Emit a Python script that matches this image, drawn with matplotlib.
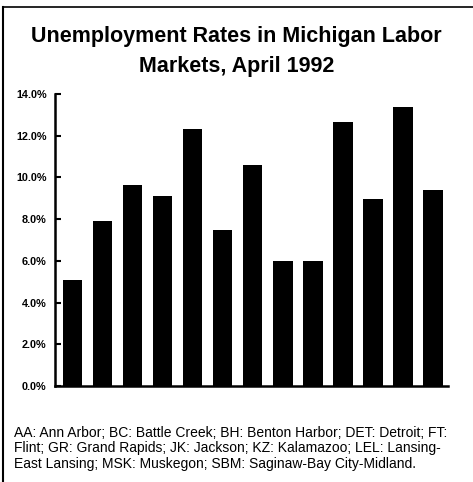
import matplotlib
matplotlib.use("Agg")
import matplotlib.pyplot as plt
from matplotlib.lines import Line2D

title = "Unemployment Rates in Michigan Labor\nMarkets, April 1992"
rates = [5.1, 7.9, 9.65, 9.1, 12.3, 7.5, 10.6, 6.0, 6.0, 12.65, 8.95, 13.4, 9.4]
yticks = [0, 2, 4, 6, 8, 10, 12, 14]
ytick_labels = ["0.0%", "2.0%", "4.0%", "6.0%", "8.0%", "10.0%", "12.0%", "14.0%"]
footnote = ("AA: Ann Arbor; BC: Battle Creek; BH: Benton Harbor; DET: Detroit; FT:\n"
            "Flint; GR: Grand Rapids; JK: Jackson; KZ: Kalamazoo; LEL: Lansing-\n"
            "East Lansing; MSK: Muskegon; SBM: Saginaw-Bay City-Midland.")

plt.rcParams['font.family'] = ['Liberation Sans', 'DejaVu Sans']

fig = plt.figure(figsize=(4.73, 4.82), dpi=100)
ax = fig.add_axes([55/473, 1-386/482, (448-55)/473, (386-94)/482])

x = list(range(len(rates)))
ax.bar(x, rates, width=0.65, color="black")
ax.set_xlim(-0.58, len(rates) - 0.5)
ax.set_ylim(0, 14)
ax.set_yticks(yticks)
ax.set_yticklabels(ytick_labels, fontsize=7.8, fontweight="bold")
ax.tick_params(axis="y", direction="in", length=4, width=1.5, pad=6)
ax.set_xticks([])
for s in ["top", "right"]:
    ax.spines[s].set_visible(False)
ax.spines["left"].set_linewidth(1.8)
ax.spines["bottom"].set_linewidth(1.8)

fig.text(0.5, 1-26/482, title, ha="center", va="top", fontsize=15.5,
         fontweight="bold", linespacing=1.55)
fig.text(14/473, 1-426/482, footnote, ha="left", va="top", fontsize=10,
         linespacing=1.12)

# outer frame lines (left and top)
fig.add_artist(Line2D([3/473, 3/473], [0, 1-7/482], transform=fig.transFigure,
                      color="black", lw=1.5))
fig.add_artist(Line2D([3/473, 1], [1-7/482, 1-7/482], transform=fig.transFigure,
                      color="black", lw=1.2))

fig.savefig("out.png", dpi=100)
